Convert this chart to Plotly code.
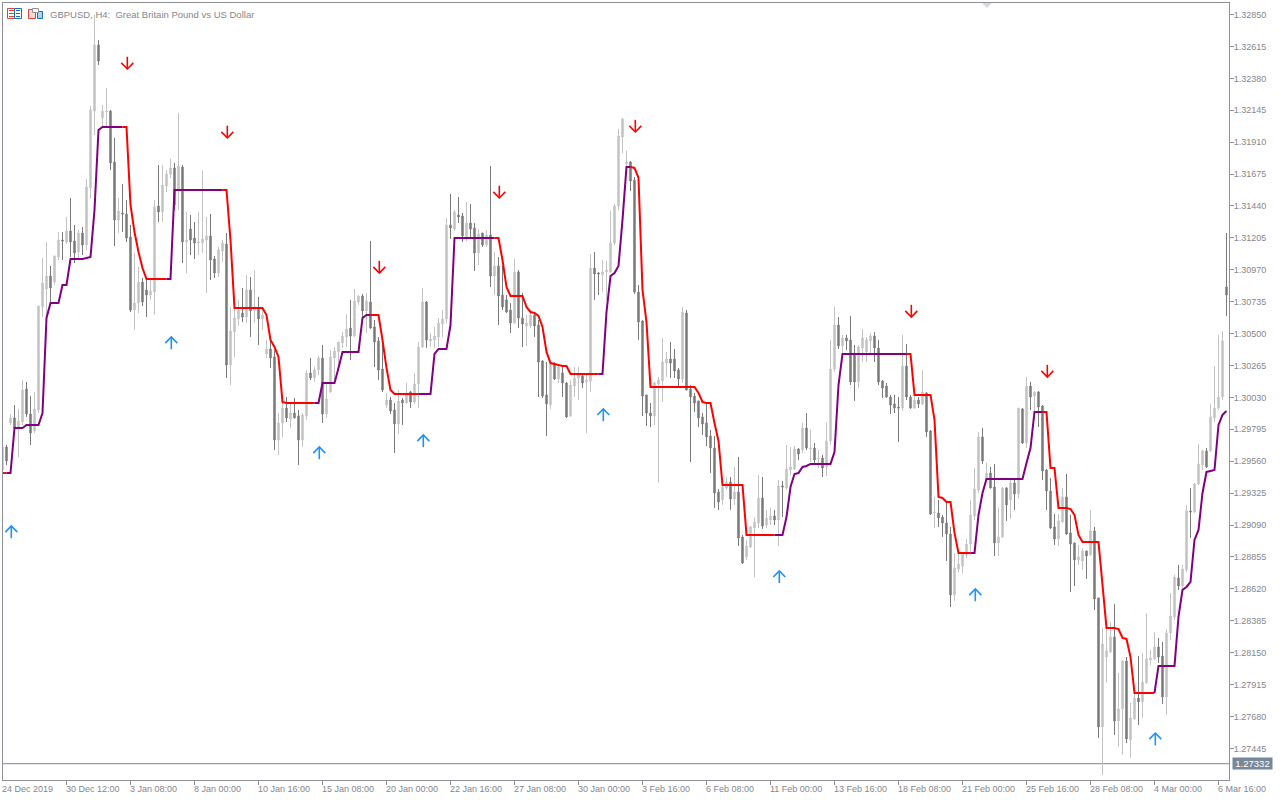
import plotly.graph_objects as go

# Prices are in points (1 point = 0.00001)
OPEN = [
129495,129665,129842,129879,129805,129849,130092,129908,129783,129937,
130696,130829,130924,130880,131064,131189,131175,131256,131182,131101,
131241,131153,131572,132139,132626,132088,132132,132139,131764,131337,
131388,131381,131212,130674,130725,130880,130821,130784,130806,131440,
131396,131587,131675,131720,131558,131727,131175,131270,131204,131167,
131167,131189,131219,131049,130946,131108,131160,130269,130512,130608,
130652,130622,130821,130674,130689,130608,130350,130387,130328,129716,
129842,129952,129871,129915,129893,129716,129893,130210,130173,130232,
130320,129908,130070,130320,130365,130431,130475,130541,130482,130733,
130777,130667,130733,130549,130446,130239,129974,130011,129937,129834,
130011,129989,130070,129996,130129,130401,130733,130446,130453,130475,
130571,130608,131300,131270,131374,131366,131212,131315,131278,131094,
131241,131153,131226,130924,130998,130784,130748,130674,130578,130954,
130615,130556,130556,130637,130563,130298,130048,129974,130276,130166,
130210,130136,129893,130114,130173,130188,130144,130151,130983,130946,
130932,130954,130954,131167,131440,131948,131749,131764,131631,130806,
130593,130048,129915,129893,130129,130151,130283,130313,130313,130232,
130166,130652,130092,130040,130004,129886,129842,129746,129657,129333,
129275,129363,129407,129282,129333,129002,128855,128928,129068,129105,
129289,129090,129127,129157,129127,129378,129363,129495,129503,129650,
129643,129805,129650,129657,129576,129584,129518,129709,130239,130563,
130409,130468,130453,130357,130144,130394,130365,130446,130482,130394,
130151,130114,130033,129982,129959,129952,130261,130033,129952,130011,
129982,130063,129783,129179,129179,129149,129105,129024,128575,128766,
128788,128869,128950,129157,129348,129739,129429,129473,129370,128958,
129002,129363,129275,129400,129319,129945,129694,130114,130040,130070,
129967,129495,129341,129076,128987,129112,129297,129032,128958,128833,
128825,128899,128869,129046,128553,127603,128118,128155,128266,127647,
127735,128089,127507,127662,127816,127787,127927,128096,128103,128192,
128125,127824,128295,128413,128700,128641,128759,129193,129186,129392,
129532,129636,129636,129879,129952,130033,130843]

HIGH = [
129665,129680,129908,129974,129945,130158,130144,130040,130070,130703,
131057,131175,130998,131072,131248,131248,131359,131499,131300,131263,
131285,131639,132176,132847,132662,132184,132309,132147,131941,131499,
131602,131484,131300,131094,130991,130910,130910,130895,131484,131742,
131742,131705,131786,131757,132125,131742,131396,131374,131322,131396,
131698,131359,131381,131072,131138,131189,131241,130696,130696,130748,
130836,130932,130917,130968,130770,130689,130453,130453,130379,129915,
130048,130033,129996,130026,129937,129915,130232,130320,130254,130335,
130416,130136,130379,130401,130438,130512,130644,130748,130829,130784,
130792,130799,131182,130600,130475,130416,130063,130033,129989,130085,
130026,130136,130077,130210,130438,130836,130740,130504,130549,130615,
130674,131352,131528,131410,131506,131388,131469,131455,131315,131270,
131241,131263,131734,131101,131064,130998,130784,130725,131049,130968,
130799,130637,130674,130652,130600,130306,130291,130291,130291,130269,
130254,130144,130158,130254,130254,130195,130195,131086,131101,130954,
131042,131035,131403,131455,132007,132088,131845,131771,131653,130858,
130600,130048,129989,130144,130180,130468,130365,130438,130387,130247,
130696,130674,130121,130063,130004,129915,129989,129790,129746,129356,
129414,129444,129444,129518,129591,129017,128980,129083,129149,129459,
129444,129201,129216,129201,129422,129414,129680,129665,129672,129657,
129842,129915,129797,129694,129643,129606,129842,130453,130696,130622,
130490,130490,130630,130416,130416,130534,130475,130504,130512,130453,
130158,130136,130048,130048,130033,130490,130423,130048,130048,130033,
130232,130070,129790,129297,129275,129164,129252,129076,128884,128884,
128884,128987,129275,129510,129775,129805,129547,129518,129540,129216,
129370,129370,129429,129429,129952,129952,130180,130144,130077,130077,
129974,129503,129437,129171,129171,129363,129466,129164,128958,128943,
128921,128899,129201,129076,128553,128332,128376,128376,128509,128000,
128096,128118,127779,127853,128125,128148,128442,128170,128302,128258,
128229,128324,128589,128722,128796,128796,129238,129363,129400,129687,
129643,129657,129982,130261,130490,130519,131241]

LOW = [
129488,129532,129827,129800,129591,129827,129886,129680,129768,129915,
130622,130615,130725,130858,131042,131042,131160,131064,131020,131057,
131079,131116,131491,131963,132478,132022,132014,131705,131145,131241,
131248,131175,130659,130527,130652,130703,130622,130748,130637,131322,
131322,131543,131646,131410,131410,131020,130946,131079,131049,131079,
131094,130799,130895,130910,130917,131027,130173,130121,130328,130556,
130585,130578,130475,130578,130416,130527,130320,130247,129643,129606,
129739,129849,129805,129875,129532,129665,129864,130158,130144,130195,
129842,129879,130063,130158,130232,130394,130401,130306,130475,130711,
130622,130504,130535,130254,130158,130070,129952,129908,129621,129761,
129827,129985,129952,129982,129952,130394,130394,130401,130394,130401,
130475,130578,131197,131256,131315,131175,131182,131197,130961,131005,
131138,131138,130843,130784,130563,130674,130652,130504,130575,130541,
130401,130409,130541,130475,130033,130026,129746,129945,130158,130136,
130033,129879,129886,130033,130011,130099,129768,130070,130748,130784,
130806,130748,130950,131153,131410,131830,131727,131550,130792,130453,
129893,129820,129812,129827,129400,129996,130180,130173,130173,130107,
130136,130080,129554,129923,129812,129753,129672,129473,129216,129201,
129238,129348,129201,129238,128936,128803,128833,128921,128707,129068,
129061,129068,129090,129090,128936,129149,129348,129459,129495,129569,
129621,129643,129554,129547,129510,129444,129451,129680,130217,130387,
130350,130379,130121,130004,130099,130291,130291,130357,130291,130121,
130026,130028,129908,129915,129702,129930,130011,129945,129945,129952,
129974,129739,129165,129068,129076,129002,128825,128486,128531,128744,
128737,128847,128869,129127,129326,129540,129422,129360,128862,128862,
128995,129120,129135,129201,129282,129687,129657,129937,129864,129812,
129422,129201,129061,128943,128936,129108,129017,128597,128641,128796,
128759,128693,128865,128464,127522,127249,127927,128148,127544,127455,
127396,127485,127374,127654,127617,127669,127919,128059,128096,128074,
127772,127691,128243,128391,128612,128626,128744,128995,129180,129385,
129495,129510,129628,129849,129937,130011,130630]

CLOSE = [
129665,129562,129879,129805,129856,130085,129908,129768,129945,130703,
130873,130924,130836,131072,131189,131182,131256,131175,131094,131241,
131153,131580,132147,132626,132508,132139,132139,131757,131337,131403,
131381,131204,130674,130725,130880,130733,130784,130814,131432,131396,
131594,131675,131720,131447,131734,131175,131189,131189,131167,131175,
131197,131219,131042,130946,131116,131167,130269,130519,130615,130674,
130622,130821,130667,130696,130608,130637,130387,130320,129716,129842,
129952,129879,129915,129879,129716,129901,130210,130173,130232,130320,
129908,130018,130328,130372,130438,130482,130534,130482,130740,130777,
130667,130740,130541,130438,130232,130085,130011,129930,129834,130004,
129989,130063,129996,130129,130401,130733,130453,130460,130482,130578,
130608,131300,131278,131396,131359,131219,131315,131270,131094,131234,
131153,131226,130924,130998,130777,130696,130659,130578,130954,130615,
130571,130578,130637,130556,130291,130040,129982,130276,130166,130254,
130136,129886,130121,130173,130195,130136,130158,130983,130939,130939,
130954,130968,131167,131440,131955,132081,131764,131624,130806,130585,
130040,129915,129893,130136,130158,130291,130313,130283,130225,130166,
130659,130085,130033,129989,129879,129834,129739,129657,129326,129260,
129370,129407,129282,129333,128995,128810,128936,129076,129112,129289,
129083,129142,129157,129127,129378,129370,129503,129518,129650,129613,
129805,129657,129657,129569,129584,129510,129709,130239,130563,130409,
130468,130446,130144,130144,130401,130468,130453,130482,130394,130144,
130099,130033,129974,129952,129952,130261,130033,129952,130011,129982,
130070,129775,129171,129186,129142,129105,129024,128575,128774,128803,
128877,128950,129164,129356,129739,129562,129473,129363,128958,129002,
129363,129238,129400,129319,129952,129694,130114,130033,130070,129959,
129488,129341,129068,128987,129120,129297,129024,128950,128833,128855,
128899,128862,129046,128545,127603,128214,128163,128266,127647,127735,
128089,127514,127669,127816,127787,127934,128103,128111,128192,128118,
127824,128295,128420,128707,128641,128766,129193,129186,129392,129540,
129636,129518,129886,129952,130033,130446,130784]

LINE = [
129473,129473,129473,129805,129805,129805,129827,129827,129827,129827,
129915,130615,130725,130725,130725,130858,130858,131049,131049,131049,
131049,131057,131064,131410,131999,132022,132022,132022,132022,132022,
132022,132022,131447,131248,131101,130983,130902,130902,130902,130902,
130902,130902,130902,131558,131558,131558,131558,131558,131558,131558,
131558,131558,131558,131558,131558,131558,131558,131189,130689,130689,
130689,130689,130689,130689,130689,130689,130637,130453,130401,130328,
129996,129989,129989,129989,129989,129989,129989,129989,129989,129989,
130136,130136,130136,130136,130247,130365,130365,130365,130365,130365,
130615,130637,130637,130637,130637,130453,130247,130085,130055,130055,
130055,130055,130055,130055,130055,130055,130055,130055,130350,130387,
130387,130387,130563,131204,131204,131204,131204,131204,131204,131204,
131204,131204,131204,131204,131204,131042,130843,130777,130777,130777,
130777,130696,130659,130652,130630,130549,130365,130283,130276,130269,
130261,130261,130203,130203,130203,130203,130203,130203,130203,130203,
130203,130659,130924,130946,130998,131337,131727,131727,131720,131646,
130821,130585,130107,130107,130107,130107,130107,130107,130107,130107,
130107,130107,130107,130107,130063,129996,129989,129989,129842,129709,
129385,129385,129385,129385,129385,129385,129017,129017,129017,129017,
129017,129017,129017,129017,129017,129017,129149,129370,129466,129473,
129518,129525,129540,129540,129540,129540,129540,129540,129628,130121,
130350,130350,130350,130350,130350,130350,130350,130350,130350,130350,
130350,130350,130350,130350,130350,130350,130350,130350,130048,130048,
130048,130048,130048,129864,129297,129289,129260,129260,129032,128884,
128884,128884,128884,128884,129164,129326,129429,129429,129429,129429,
129429,129429,129429,129429,129429,129429,129547,129657,129923,129923,
129923,129923,129510,129510,129216,129216,129216,129208,129164,129017,
128965,128965,128965,128965,128965,128649,128332,128332,128332,128324,
128258,128251,128118,127853,127853,127853,127853,127853,127853,128052,
128052,128052,128052,128052,128413,128612,128634,128671,128980,129054,
129326,129481,129488,129495,129827,129901,129930]

# Colour changes of the indicator line: candle index where each colour run ends
RUN_ENDS = [1, 30, 41, 55, 78, 92, 104, 123, 149, 157, 193, 226, 242, 260, 288, 306]
RUN_COLORS = ["red", "purple", "red", "purple", "red", "purple", "red", "purple",
              "red", "purple", "red", "purple", "red", "purple", "red", "purple"]

UP_IDX = [2, 42, 79, 105, 150, 194, 243, 288]
UP_TIP = [129083, 130475, 129665, 129753, 129945, 128752, 128619, 127558]
DOWN_IDX = [31, 56, 94, 124, 158, 227, 261]
DOWN_TIP = [132449, 131941, 130946, 131499, 131985, 130622, 130180]

Y_TICKS = [132850, 132615, 132380, 132145, 131910, 131675, 131440, 131205, 130970, 130735,
           130500, 130265, 130030, 129795, 129560, 129325, 129090, 128855, 128620, 128385,
           128150, 127915, 127680, 127445]
X_TICK_IDX = [0, 16, 32, 48, 64, 80, 96, 112, 128, 144, 160, 176, 192, 208, 224, 240, 256, 272, 288, 304]
X_TICK_TXT = ["24 Dec 2019", "30 Dec 12:00", "3 Jan 08:00", "8 Jan 00:00", "10 Jan 16:00",
              "15 Jan 08:00", "20 Jan 00:00", "22 Jan 16:00", "27 Jan 08:00", "30 Jan 00:00",
              "3 Feb 16:00", "6 Feb 08:00", "11 Feb 00:00", "13 Feb 16:00", "18 Feb 08:00",
              "21 Feb 00:00", "25 Feb 16:00", "28 Feb 08:00", "4 Mar 00:00", "6 Mar 16:00"]
CURRENT = 127332
TITLE = "GBPUSD, H4:\u00a0 Great Britain Pound vs US Dollar"

P = 1e-5
FONT = "Liberation Sans"
AXIS = "#8f9196"
TXT = "#85878c"
X_MIN, X_MAX = 0.125, 306.625
idx = list(range(len(OPEN)))

fig = go.Figure()
fig.add_trace(go.Candlestick(
    x=idx,
    open=[v * P for v in OPEN], high=[v * P for v in HIGH],
    low=[v * P for v in LOW], close=[v * P for v in CLOSE],
    increasing=dict(line=dict(color="#c3c3c3", width=1), fillcolor="#c3c3c3"),
    decreasing=dict(line=dict(color="#7a7a7a", width=1), fillcolor="#7a7a7a"),
    whiskerwidth=0, hoverinfo="skip", showlegend=False))

start = 0
for end, col in zip(RUN_ENDS, RUN_COLORS):
    fig.add_trace(go.Scatter(
        x=idx[start:end + 1], y=[v * P for v in LINE[start:end + 1]], mode="lines",
        line=dict(color={"red": "#ff0000", "purple": "#800080"}[col], width=2),
        hoverinfo="skip", showlegend=False))
    start = end


def arrows(indices, tips, direction, color):
    """Stem and chevron of every signal arrow, drawn on the chart's own axes."""
    xs, ys = [], []
    stem = 90 * direction      # points
    wing = 45 * direction
    for i, p in zip(indices, tips):
        c = i + 0.2
        xs += [c, c, None, c - 1.5, c, c + 1.5, None]
        ys += [(p + stem) * P, p * P, None, (p + wing) * P, p * P, (p + wing) * P, None]
    fig.add_trace(go.Scatter(x=xs, y=ys, mode="lines", line=dict(color=color, width=1.6),
                             hoverinfo="skip", showlegend=False, cliponaxis=False))


arrows(DOWN_IDX, DOWN_TIP, 1, "#ff0000")
arrows(UP_IDX, UP_TIP, -1, "#1e90ff")

ann = []
for i, t in zip(X_TICK_IDX, X_TICK_TXT):
    ann.append(dict(x=max(i, X_MIN), y=0, xref="x", yref="paper", xanchor="left", yanchor="top", yshift=-3,
                    xshift=-2, text=t, showarrow=False, borderpad=0, font=dict(family=FONT, size=9, color=TXT)))
ann.append(dict(x=45.5 / 1226, y=1 - 11.5 / 777, xref="paper", yref="paper", text=TITLE, showarrow=False,
                xanchor="left", yanchor="middle", borderpad=0, font=dict(family=FONT, size=9.5, color=TXT)))
ann.append(dict(x=1, y=CURRENT * P, xref="paper", yref="y", xanchor="left", yanchor="middle", xshift=3,
                text=f"{CURRENT * P:.5f}", showarrow=False, bgcolor="#778899", width=39, height=11,
                borderpad=0, font=dict(family=FONT, size=9.5, color="#ffffff")))

W, H = 1226, 777


def px(x):
    return (x - 3) / W


def py(y):
    return 1 - (y - 3) / H


shapes = [dict(type="line", xref="paper", yref="y", x0=0, x1=1, y0=CURRENT * P, y1=CURRENT * P,
               line=dict(color="#778899", width=1), layer="below")]
# Chart-window marker and the two toolbar icons
shapes.append(dict(type="path", xref="paper", yref="paper", fillcolor="#d9d9d9", line=dict(width=0),
                   path=f"M {px(982)} {py(3)} L {px(992)} {py(3)} L {px(987)} {py(8)} Z"))


def rect(x0, y0, x1, y1, line, fill="rgba(0,0,0,0)", w=1):
    return dict(type="rect", xref="paper", yref="paper", x0=px(x0), x1=px(x1), y0=py(y0), y1=py(y1),
                line=dict(color=line, width=w), fillcolor=fill)


def hl(x0, x1, y, c):
    return dict(type="line", xref="paper", yref="paper", x0=px(x0), x1=px(x1), y0=py(y), y1=py(y),
                line=dict(color=c, width=1))


shapes += [rect(7.5, 8.5, 14.5, 18.5, "#e0413c", "#ffffff"), rect(14.5, 8.5, 21.5, 18.5, "#1e6fb4", "#ffffff")]
for yy in (10.5, 13.5, 16.5):
    shapes += [hl(9, 14, yy, "#e0413c"), hl(16, 20, yy, "#1e6fb4")]
shapes += [rect(28.5, 9.5, 35.5, 18.5, "#e0413c", "#fbd9d0"), rect(37.5, 11.5, 42.5, 18.5, "#1e6fb4", "#a9d4f2"),
           rect(32.5, 8.5, 38.5, 12.5, "#8f9196", "#ffffff")]

fig.update_layout(
    width=1280, height=800, autosize=False, paper_bgcolor="#ffffff", plot_bgcolor="#ffffff",
    margin=dict(l=3, r=51, t=3, b=20, pad=0), boxgap=0.5, showlegend=False,
    annotations=ann, shapes=shapes, dragmode=False,
    xaxis=dict(type="linear", range=[X_MIN, X_MAX], rangeslider=dict(visible=False), showgrid=False, zeroline=False,
               showline=True, mirror=True, linecolor=AXIS, linewidth=1,
               tickmode="array", tickvals=X_TICK_IDX, ticktext=[""] * len(X_TICK_IDX),
               ticks="outside", ticklen=4, tickwidth=1, tickcolor=AXIS),
    yaxis=dict(range=[1.27212, 1.32935], side="right", showgrid=False, zeroline=False,
               showline=True, mirror=True, linecolor=AXIS, linewidth=1,
               tickmode="array", tickvals=[v * P for v in Y_TICKS], ticktext=[f"{v * P:.5f}" for v in Y_TICKS],
               ticks="outside", ticklen=4, tickwidth=1, tickcolor=AXIS, ticklabelstandoff=-2,
               tickfont=dict(family=FONT, size=9, color=TXT)),
)
fig.write_html("out.html", config={"displayModeBar": False},
               post_script="document.body.style.margin='0';document.body.style.overflow='hidden';")
